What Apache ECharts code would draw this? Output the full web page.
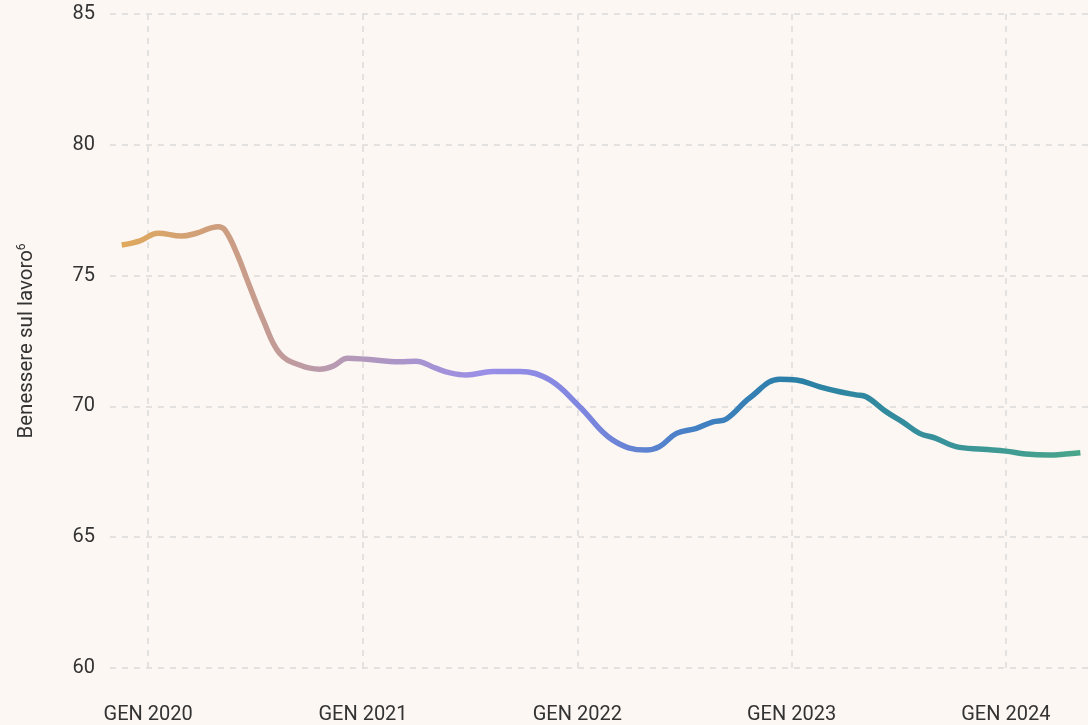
<!DOCTYPE html>
<html>
<head>
<meta charset="utf-8">
<script src="https://cdn.jsdelivr.net/npm/echarts@6/dist/echarts.min.js"></script>
<style>
  html, body { margin: 0; padding: 0; background: #fcf7f3; }
  #chart { width: 1088px; height: 725px; }
</style>
</head>
<body>
<div id="chart"></div>
<script>
// date points
const dates = [
  "2019-11-17", "2019-12-18", "2020-01-18", "2020-02-27", "2020-03-23", "2020-04-29",
  "2020-05-11", "2020-05-31", "2020-06-22", "2020-07-15", "2020-08-12", "2020-09-15",
  "2020-10-19", "2020-11-11", "2020-12-06", "2021-01-07", "2021-03-04", "2021-04-01",
  "2021-05-05", "2021-05-28", "2021-06-26", "2021-08-10", "2021-09-25", "2021-11-15",
  "2022-01-05", "2022-03-02", "2022-04-28", "2022-05-21", "2022-06-19", "2022-07-23",
  "2022-08-20", "2022-09-12", "2022-10-22", "2022-12-12", "2023-01-09", "2023-02-18",
  "2023-03-24", "2023-04-21", "2023-05-08", "2023-06-11", "2023-07-09", "2023-08-07",
  "2023-09-04", "2023-10-08", "2023-11-23", "2024-01-01", "2024-02-04", "2024-03-15",
  "2024-04-12", "2024-05-07"
];
const values = [
  76.17, 76.33, 76.62, 76.51, 76.62, 76.87,
  76.74, 75.85, 74.58, 73.30, 72.03, 71.58,
  71.42, 71.54, 71.84, 71.80, 71.71, 71.73,
  71.46, 71.29, 71.20, 71.33, 71.33, 71.01,
  69.99, 68.72, 68.33, 68.46, 68.97, 69.16,
  69.41, 69.52, 70.33, 71.04, 71.01, 70.75,
  70.56, 70.44, 70.37, 69.80, 69.41, 68.97,
  68.78, 68.46, 68.36, 68.29, 68.18, 68.14,
  68.18, 68.23
];

const YEAR = 365 * 24 * 3600 * 1000;
const chart = echarts.init(document.getElementById("chart"));
const fontFamily = "Roboto, sans-serif";

chart.setOption({
  backgroundColor: "#fcf7f3",
  animation: false,
  grid: {
    left: 110,
    right: 0,
    top: 14,
    bottom: 57
  },
  xAxis: {
    type: "time",
    min: "2019-10-28",
    max: "2024-05-20",
    minInterval: YEAR,
    maxInterval: YEAR * 1.01,
    axisLine: { show: false },
    axisTick: { show: false },
    axisLabel: {
      margin: 37,
      color: "#333",
      fontSize: 20,
      fontFamily: fontFamily,
      showMinLabel: false,
      showMaxLabel: false,
      formatter: function (v) {
        const d = new Date(v);
        return d.getMonth() === 0 && d.getDate() === 1 ? "GEN " + d.getFullYear() : "";
      }
    },
    splitLine: {
      show: true,
      showMinLine: false,
      showMaxLine: false,
      lineStyle: { color: "#dcdcdc", type: [6, 6], width: 1.5 }
    }
  },
  yAxis: {
    type: "value",
    min: 60,
    max: 85,
    interval: 5,
    name: "Benessere sul lavoro{sup|6}",
    nameLocation: "middle",
    nameGap: 72,
    nameTextStyle: {
      color: "#333",
      fontSize: 20.5,
      fontFamily: fontFamily,
      rich: {
        sup: { fontSize: 12, color: "#333", fontFamily: fontFamily, padding: [0, 0, 10, 0] }
      }
    },
    axisLine: { show: false },
    axisTick: { show: false },
    axisLabel: { color: "#333", fontSize: 20, margin: 15, fontFamily: fontFamily },
    splitLine: {
      lineStyle: { color: "#dcdcdc", type: [6, 6], width: 1.5 }
    }
  },
  series: [{
    type: "line",
    data: dates.map((d, i) => [d, values[i]]),
    smooth: 0.4,
    showSymbol: false,
    lineStyle: {
      width: 5.5,
      cap: "butt",
      color: new echarts.graphic.LinearGradient(0, 0, 1, 0, [
        { offset: 0, color: "#e0a95b" },
        { offset: 0.11, color: "#cc9d80" },
        { offset: 0.22, color: "#b89ab0" },
        { offset: 0.38, color: "#9a8ee8" },
        { offset: 0.48, color: "#7f86df" },
        { offset: 0.6, color: "#4280c4" },
        { offset: 0.7, color: "#2a7fa6" },
        { offset: 0.85, color: "#37919a" },
        { offset: 1, color: "#4aa68a" }
      ])
    }
  }]
});
</script>
</body>
</html>
